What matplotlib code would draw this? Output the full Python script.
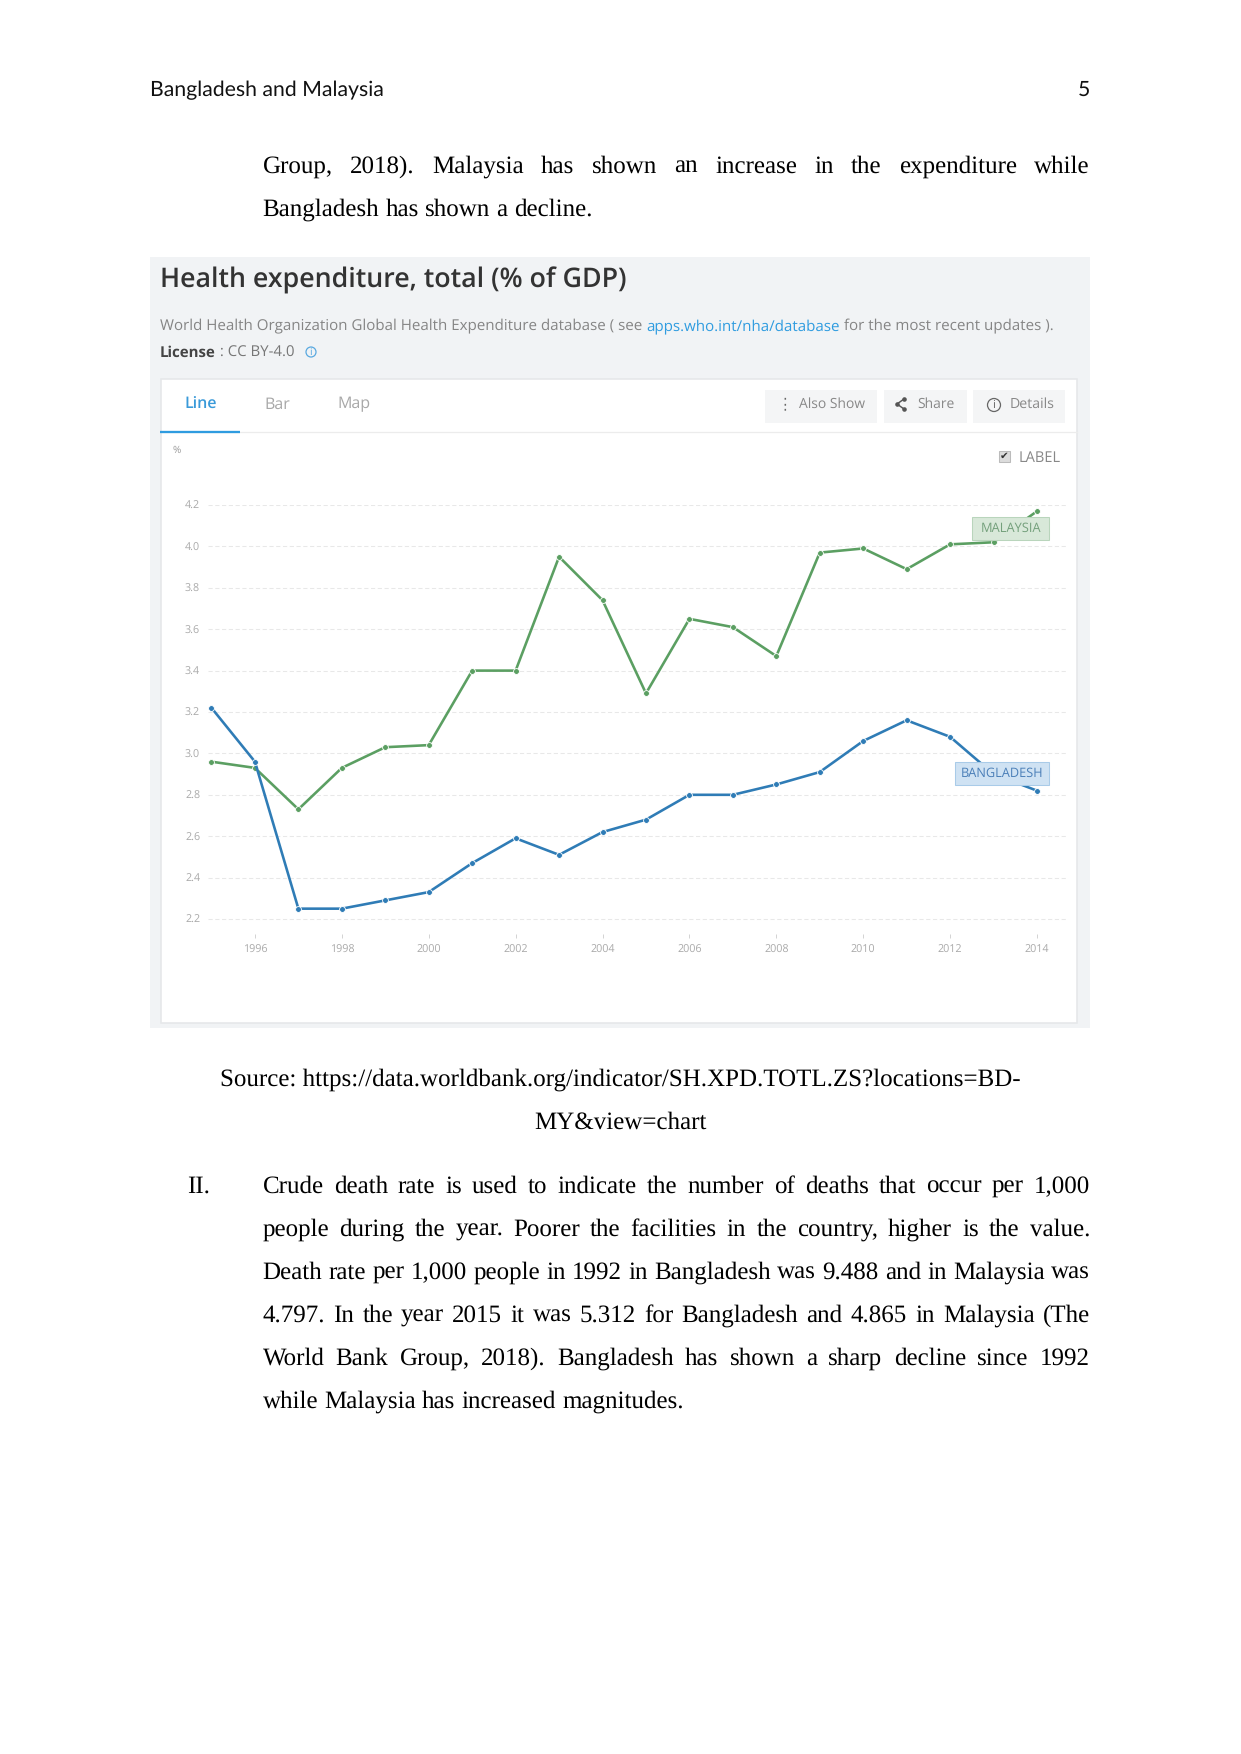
import matplotlib
matplotlib.use('Agg')
import matplotlib.pyplot as plt
from matplotlib.patches import Rectangle, Circle

plt.rcParams['text.hinting'] = 'none'

# Data
years = list(range(1995, 2015))
bangladesh = [3.22, 2.96, 2.25, 2.25, 2.29, 2.33, 2.47, 2.59, 2.51, 2.62,
              2.68, 2.80, 2.80, 2.85, 2.91, 3.06, 3.16, 3.08, 2.90, 2.82]
malaysia = [2.96, 2.93, 2.73, 2.93, 3.03, 3.04, 3.40, 3.40, 3.95, 3.74,
            3.29, 3.65, 3.61, 3.47, 3.97, 3.99, 3.89, 4.01, 4.02, 4.17]
y_ticks = [2.2, 2.4, 2.6, 2.8, 3.0, 3.2, 3.4, 3.6, 3.8, 4.0, 4.2]
x_ticks = list(range(1996, 2016, 2))

para1 = [('Group, 2018). Malaysia has shown an increase in the expenditure while', True),
         ('Bangladesh has shown a decline.', False)]
para2 = [('Crude death rate is used to indicate the number of deaths that occur per 1,000', True),
         ('people during the year. Poorer the facilities in the country, higher is the value.', True),
         ('Death rate per 1,000 people in 1992 in Bangladesh was 9.488 and in Malaysia was', True),
         ('4.797. In the year 2015 it was 5.312 for Bangladesh and 4.865 in Malaysia (The', True),
         ('World Bank Group, 2018). Bangladesh has shown a sharp decline since 1992', True),
         ('while Malaysia has increased magnitudes.', False)]

W, H = 1241, 1754
fig = plt.figure(figsize=(W / 150, H / 150), dpi=150, facecolor='white')
renderer = fig.canvas.get_renderer()

# page axes, coordinates are pixels
page = fig.add_axes([0, 0, 1, 1], zorder=0)
page.set_xlim(0, W)
page.set_ylim(H, 0)
page.axis('off')


def text_width(t):
    return t.get_window_extent(renderer).width


def body_line(s, y, justified):
    # y is the baseline
    x0, x1 = 262.5, 1090
    words = s.split(' ')
    items = [page.text(0, y, w, family='Liberation Serif', fontsize=12, color='black',
                       va='baseline', ha='left') for w in words]
    sizes = [text_width(t) for t in items]
    space = 6.25
    if justified:
        space = (x1 - x0 - sum(sizes)) / (len(words) - 1)
    x = x0
    for t, w in zip(items, sizes):
        t.set_x(x)
        x += w + space


def row(parts, x, y, size):
    # text pieces one after another, (string, colour, weight)
    for s, c, wt in parts:
        t = page.text(x, y, s, family='Open Sans', fontsize=size, color=c, weight=wt,
                      va='baseline', ha='left')
        x += text_width(t)
    return x


# header
page.text(150, 88, 'Bangladesh and Malaysia', family='Lato', fontsize=10.2, color='#111111',
          va='center_baseline')
page.text(1090, 88, '5', family='Lato', fontsize=10.2, color='#111111', va='center_baseline', ha='right')

# body text
for (s, j), y in zip(para1, [173, 216]):
    body_line(s, y, j)
page.text(620, 1086, 'Source: https://data.worldbank.org/indicator/SH.XPD.TOTL.ZS?locations=BD-',
          family='Liberation Serif', fontsize=12, ha='center', va='baseline')
page.text(620, 1129, 'MY&view=chart', family='Liberation Serif', fontsize=12, ha='center',
          va='baseline')
page.text(187.5, 1193, 'II.', family='Liberation Serif', fontsize=12, va='baseline')
for (s, j), y in zip(para2, [1193, 1236, 1279, 1322, 1365, 1408]):
    body_line(s, y, j)

# screenshot background and white panel
page.add_patch(Rectangle((150, 257), 940, 771, fc='#f1f3f5', ec='none'))
page.add_patch(Rectangle((161, 379), 916, 644, fc='white', ec='#e6e8ea', lw=0.8))

page.text(160, 277, 'Health expenditure, total (% of GDP)', family='Open Sans', fontsize=12.87,
          weight='semibold', color='#333333', va='center_baseline')
end = row([('World Health Organization Global Health Expenditure database ( see ', '#858585', 'normal'),
           ('apps.who.int/nha/database', '#2f9ce0', 'normal'),
           (' for the most recent updates ).', '#858585', 'normal')], 160, 330, 7.25)
end = row([('License', '#444444', 'bold'), (' : CC BY-4.0', '#777777', 'normal')], 160, 357, 7.2)
page.add_patch(Circle((311, 352), 5, fc='none', ec='#5aa9e0', lw=0.6))
page.text(311, 352, 'i', family='Open Sans', fontsize=5, color='#5aa9e0', ha='center', va='center')

# tabs
page.text(201, 408.5, 'Line', family='Open Sans', fontsize=7.7, weight='semibold', color='#3a9ad9',
          ha='center', va='baseline')
page.text(277, 408.5, 'Bar', family='Open Sans', fontsize=7.7, color='#a8a8a8', ha='center',
          va='baseline')
page.text(354, 408.5, 'Map', family='Open Sans', fontsize=7.7, color='#a8a8a8', ha='center',
          va='baseline')
page.plot([161, 1077], [432, 432], color='#ececec', lw=0.6)
page.plot([160, 240], [432, 432], color='#2f9ce0', lw=1.1, solid_capstyle='butt')

# buttons
for x0, x1 in [(765, 877), (884, 967), (973, 1065)]:
    page.add_patch(Rectangle((x0, 390), x1 - x0, 33, fc='#f4f5f6', ec='none'))
page.text(785, 404, '\u22ee', family='DejaVu Sans', fontsize=7, color='#666666', ha='center', va='center')
page.text(799, 408, 'Also Show', family='Open Sans', fontsize=6.65, color='#888888', va='baseline')
page.plot([904, 897, 904], [399, 404, 409], color='#555555', lw=0.7, marker='o', ms=1.2)
page.text(917.5, 408, 'Share', family='Open Sans', fontsize=6.65, color='#888888', va='baseline')
page.add_patch(Circle((994, 405), 6.5, fc='none', ec='#666666', lw=0.6))
page.text(994, 405, 'i', family='Open Sans', fontsize=5.5, color='#666666', ha='center', va='center')
page.text(1010, 408, 'Details', family='Open Sans', fontsize=6.75, color='#888888', va='baseline')

# label checkbox and unit
page.text(177, 450, '%', family='Open Sans', fontsize=4.8, color='#999999', ha='center', va='center')
page.add_patch(Rectangle((999, 451), 11, 11, fc='#dcdcdc', ec='#bbbbbb', lw=0.5))
page.text(1004.5, 456.5, '\u2714', family='DejaVu Sans', fontsize=5, color='#333333', ha='center', va='center')
page.text(1019, 461.5, 'LABEL', family='Open Sans', fontsize=7, color='#888888', va='baseline')

# chart axes placed in pixels: 4.2 at y=505, 2.2 at y=919, 1996 at x=255, 2014 at x=1037
left, right, top, bottom = 208, 1067, 505, 934
ax = fig.add_axes([left / W, 1 - bottom / H, (right - left) / W, (bottom - top) / H], zorder=1)
ax.patch.set_alpha(0)
ax.set_xlim(1994.92, 2014.69)
ax.set_ylim(2.1276, 4.2)
for s in ax.spines.values():
    s.set_visible(False)
ax.set_yticks(y_ticks)
ax.set_yticklabels(['{:.1f}'.format(v) for v in y_ticks], family='Open Sans', fontsize=5.2, color='#aaaaaa')
ax.set_xticks(x_ticks)
ax.set_xticklabels([str(v) for v in x_ticks], family='Open Sans', fontsize=5.2, color='#aaaaaa')
ax.tick_params(axis='y', length=0, pad=3.8)
ax.tick_params(axis='x', length=2, width=0.4, color='#cccccc', pad=3.2)
ax.grid(axis='y', color='#e8e8e8', lw=0.5, ls=(0, (4, 2.5)))
ax.set_axisbelow(True)

for series, color in [(malaysia, '#5b9f62'), (bangladesh, '#2f7cb6')]:
    ax.plot(years, series, color=color, lw=1.25, marker='o', ms=2.8, mfc=color, mec='white', mew=0.4,
            clip_on=False)

# series labels on top of the lines
ax.add_patch(Rectangle((972, 517), 77, 23, transform=page.transData, fc='#d8e8d9', ec='#b9d5bc', lw=0.5,
                       clip_on=False, zorder=5))
ax.text(1011, 528.5, 'MALAYSIA', transform=page.transData, family='Open Sans', fontsize=6.2, color='#74a07c',
        ha='center', va='center', zorder=6, clip_on=False)
ax.add_patch(Rectangle((955, 762), 94, 23, transform=page.transData, fc='#cfe2f3', ec='#a9cbe8', lw=0.5,
                       clip_on=False, zorder=5))
ax.text(1002, 773.5, 'BANGLADESH', transform=page.transData, family='Open Sans', fontsize=6.15, color='#4b7fb8',
        ha='center', va='center', zorder=6, clip_on=False)

fig.savefig('out.png', dpi=150)
